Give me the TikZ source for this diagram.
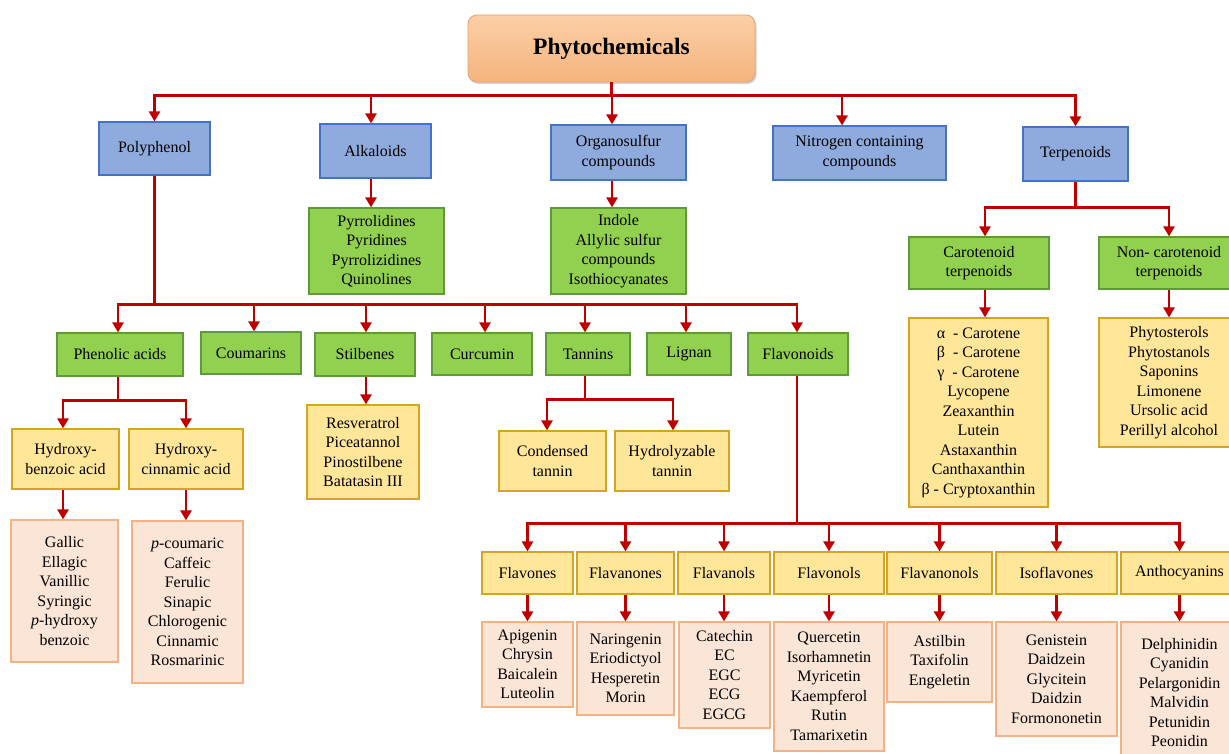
\documentclass[tikz,border=0pt]{standalone}
\usepackage{fontspec}
\setmainfont{Liberation Serif}
\usetikzlibrary{arrows.meta,shadows}
\definecolor{rl}{HTML}{C00000}
\definecolor{bfill}{HTML}{8FAADC}
\definecolor{bdraw}{HTML}{4472C4}
\definecolor{gfill}{HTML}{92D050}
\definecolor{gdraw}{HTML}{5E9A3A}
\definecolor{yfill}{HTML}{FFE699}
\definecolor{ydraw}{HTML}{D4A520}
\definecolor{pfill}{HTML}{FBE5D6}
\definecolor{pdraw}{HTML}{F4B183}
\definecolor{ttop}{HTML}{FBCFA6}
\definecolor{tbot}{HTML}{F5B47E}
\definecolor{tdraw}{HTML}{E8A070}
\tikzset{
  box/.style={draw, line width=1.2pt, align=center, inner sep=0pt,
    font=\fontsize{16}{19.5}\selectfont, text=black},
  wh/.style 2 args={minimum width=#1, minimum height=#2},
  bluebox/.style={box, fill=bfill, draw=bdraw},
  greenbox/.style={box, fill=gfill, draw=gdraw},
  yellowbox/.style={box, fill=yfill, draw=ydraw},
  pinkbox/.style={box, fill=pfill, draw=pdraw},
  titlebox/.style={draw=tdraw, line width=0.8pt, rounded corners=9pt,
    top color=ttop, bottom color=tbot, drop shadow={opacity=0.35, shadow xshift=1.5pt, shadow yshift=-2pt},
    font=\fontsize{23.5}{28}\selectfont\bfseries, text=black},
  arr/.style={draw=rl, line width=2.6pt, -{Triangle[length=10pt,width=11pt]}},
}
\begin{document}
\begin{tikzpicture}[x=1pt,y=-1pt]
\useasboundingbox (0,0) rectangle (1229,754);
\fill[white] (0,0) rectangle (1229,754);

% title
\node[titlebox, wh={287pt}{67pt}] (top) at (611.5,48.5) {Phytochemicals};

% level 1 (blue)
\node[bluebox, wh={111pt}{53pt}] (poly) at (154.5,148.5) {Polyphenol};
\node[bluebox, wh={111pt}{54pt}] (alk) at (375.5,151) {Alkaloids};
\node[bluebox, wh={135pt}{55pt}] (org) at (618.5,152.5) {Organosulfur\\compounds};
\node[bluebox, wh={173pt}{54pt}] (nit) at (859.5,153) {Nitrogen containing\\compounds};
\node[bluebox, wh={105pt}{54pt}] (terp) at (1075.5,154) {Terpenoids};

% green under alkaloids / organosulfur / terpenoids
\node[greenbox, wh={135pt}{86pt}] (alklist) at (376.5,251) {Pyrrolidines\\Pyridines\\Pyrrolizidines\\Quinolines};
\node[greenbox, wh={135pt}{86pt}] (orglist) at (618.5,251) {Indole\\Allylic sulfur\\compounds\\Isothiocyanates};
\node[greenbox, wh={140pt}{52pt}] (carot) at (979,263) {Carotenoid\\terpenoids};
\node[greenbox, wh={140pt}{52pt}] (noncarot) at (1169,263) {Non- carotenoid\\terpenoids};

% polyphenol classes
\node[greenbox, wh={126pt}{43pt}] (phen) at (120,354.5) {Phenolic acids};
\node[greenbox, wh={100pt}{42pt}] (coum) at (251,353) {Coumarins};
\node[greenbox, wh={100pt}{43pt}] (stil) at (365,354.5) {Stilbenes};
\node[greenbox, wh={100pt}{42pt}] (curc) at (482,354) {Curcumin};
\node[greenbox, wh={84pt}{42pt}] (tann) at (588,354) {Tannins};
\node[greenbox, wh={84pt}{42pt}] (lign) at (689,354) {Lignan};
\node[greenbox, wh={100pt}{42pt}] (flav) at (798,354) {Flavonoids};

% yellow
\node[yellowbox, wh={107pt}{60pt}] (hba) at (65.5,459) {Hydroxy-\\benzoic acid};
\node[yellowbox, wh={114pt}{60pt}] (hca) at (186,459) {Hydroxy-\\cinnamic acid};
\node[yellowbox, wh={112pt}{94pt}] (stillist) at (363,452) {Resveratrol\\Piceatannol\\Pinostilbene\\Batatasin III};
\node[yellowbox, wh={107pt}{60pt}] (cond) at (552.5,461) {Condensed\\tannin};
\node[yellowbox, wh={114pt}{60pt}] (hydro) at (672,461) {Hydrolyzable\\tannin};
\node[yellowbox, wh={139pt}{189pt}] (carlist) at (978.5,412.5) {α~~- Carotene\\β~~- Carotene\\γ~~- Carotene\\Lycopene\\Zeaxanthin\\Lutein\\Astaxanthin\\Canthaxanthin\\β - Cryptoxanthin};
\node[yellowbox, wh={140pt}{129pt}] (noncarlist) at (1169,382.5) {Phytosterols\\Phytostanols\\Saponins\\Limonene\\Ursolic acid\\Perillyl alcohol};

% pink (phenolic acids)
\node[pinkbox, wh={107pt}{142pt}] (gal) at (64.5,591) {Gallic\\Ellagic\\Vanillic\\Syringic\\\textit{p}-hydroxy\\benzoic};
\node[pinkbox, wh={111pt}{162pt}] (cou) at (187.5,602) {\textit{p}-coumaric\\Caffeic\\Ferulic\\Sinapic\\Chlorogenic\\Cinnamic\\Rosmarinic};

% flavonoid subclasses
\node[yellowbox, wh={91pt}{42pt}] (fvs) at (527.5,573) {Flavones};
\node[yellowbox, wh={97pt}{42pt}] (fvn) at (625.5,573) {Flavanones};
\node[yellowbox, wh={92pt}{42pt}] (fvl) at (724,573) {Flavanols};
\node[yellowbox, wh={110pt}{42pt}] (fvol) at (829,573) {Flavonols};
\node[yellowbox, wh={105pt}{42pt}] (fvnl) at (939.5,573) {Flavanonols};
\node[yellowbox, wh={121pt}{42pt}] (iso) at (1056.5,573) {Isoflavones};
\node[yellowbox, wh={117pt}{42pt}] (antho) at (1179.5,573) {Anthocyanins};

\node[pinkbox, wh={91pt}{85pt}] (lfvs) at (527.5,664.5) {Apigenin\\Chrysin\\Baicalein\\Luteolin};
\node[pinkbox, wh={97pt}{93pt}] (lfvn) at (625.5,668.5) {Naringenin\\Eriodictyol\\Hesperetin\\Morin};
\node[pinkbox, wh={91pt}{106pt}] (lfvl) at (724.5,675) {Catechin\\EC\\EGC\\ECG\\EGCG};
\node[pinkbox, wh={110pt}{129pt}] (lfvol) at (829,686.5) {Quercetin\\Isorhamnetin\\Myricetin\\Kaempferol\\Rutin\\Tamarixetin};
\node[pinkbox, wh={105pt}{80pt}] (lfvnl) at (939.5,662) {Astilbin\\Taxifolin\\Engeletin};
\node[pinkbox, wh={121pt}{114pt}] (liso) at (1056.5,679) {Genistein\\Daidzein\\Glycitein\\Daidzin\\Formononetin};
\node[pinkbox, wh={117pt}{141pt}] (lantho) at (1179.5,692.5) {Delphinidin\\Cyanidin\\Pelargonidin\\Malvidin\\Petunidin\\Peonidin};

% connectors: title to level 1
\foreach \t/\dx in {poly/0, alk/-4.5, org/-6.5, nit/-17.5, terp/0}
  \draw[arr] (top.south) -- ++(0,13) -| ([xshift=\dx pt]\t.north);

% alkaloids, organosulfur
\draw[arr] ([xshift=-4.5pt]alk.south) -- ([xshift=-4.5pt]alk.south |- alklist.north);
\draw[arr] ([xshift=-6.5pt]org.south) -- ([xshift=-6.5pt]org.south |- orglist.north);

% terpenoids
\draw[arr] (terp.south) -- ++(0,26) -| ([xshift=6pt]carot.north);
\draw[arr] (terp.south) -- ++(0,26) -| (noncarot.north);
\draw[arr] ([xshift=6pt]carot.south) -- ([xshift=6pt]carot.south |- carlist.north);
\draw[arr] (noncarot.south) -- (noncarlist.north);

% polyphenol
\foreach \t/\dx in {phen/-2, coum/3, stil/1, curc/3, tann/-3, lign/-3, flav/-1}
  \draw[arr] (poly.south) -- ++(0,129) -| ([xshift=\dx pt]\t.north);

% phenolic acids
\draw[arr] ([xshift=-2pt]phen.south) -- ++(0,24) -| ([xshift=-2.5pt]hba.north);
\draw[arr] ([xshift=-2pt]phen.south) -- ++(0,24) -| (hca.north);
\draw[arr] ([xshift=-2.5pt]hba.south) -- ([xshift=-2.5pt]hba.south |- gal.north);
\draw[arr] (hca.south) -- (hca.south |- cou.north);

% stilbenes
\draw[arr] ([xshift=1pt]stil.south) -- ([xshift=1pt]stil.south |- stillist.north);

% tannins
\draw[arr] ([xshift=-3pt]tann.south) -- ++(0,24) -| ([xshift=-5.5pt]cond.north);
\draw[arr] ([xshift=-3pt]tann.south) -- ++(0,24) -| ([xshift=1pt]hydro.north);

% flavonoids
\foreach \t in {fvs, fvn, fvl, fvol, fvnl, iso, antho}
  \draw[arr] ([xshift=-1pt]flav.south) -- ++(0,148) -| (\t.north);
\foreach \a/\b in {fvs/lfvs, fvn/lfvn, fvl/lfvl, fvol/lfvol, fvnl/lfvnl, iso/liso, antho/lantho}
  \draw[arr] (\a.south) -- (\a.south |- \b.north);
\end{tikzpicture}
\end{document}
